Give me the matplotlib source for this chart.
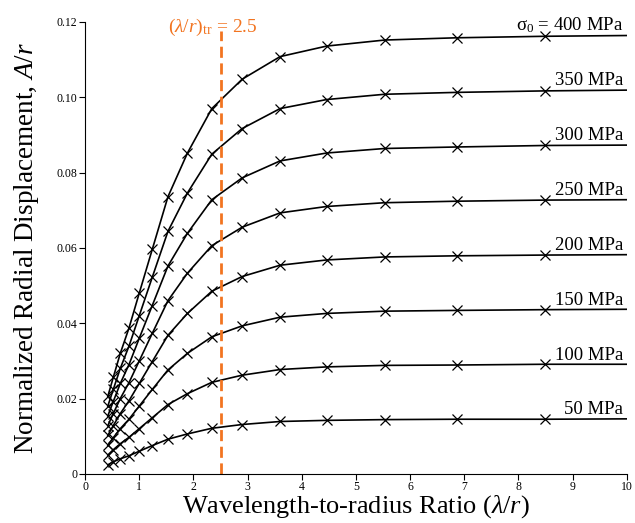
import matplotlib
matplotlib.use('Agg')
import matplotlib.pyplot as plt

plt.rcParams['font.family'] = ['Liberation Serif', 'DejaVu Serif']
plt.rcParams['mathtext.fontset'] = 'custom'
plt.rcParams['mathtext.rm'] = 'Liberation Serif'
plt.rcParams['mathtext.it'] = 'Liberation Serif:italic'

# wavelength-to-radius ratios of the computed points (last point has no marker)
ratio = [0.42, 0.52, 0.65, 0.81, 1.0, 1.24, 1.53, 1.89, 2.34, 2.9, 3.6, 4.46, 5.53, 6.86, 8.5, 10.0]

stress_labels = ['50 MPa', '100 MPa', '150 MPa', '200 MPa', '250 MPa', '300 MPa', '350 MPa',
                 'σ$_0$ = 400 MPa']

disp_50 = [0.0024, 0.0032, 0.0040, 0.0048, 0.0060, 0.0075, 0.0092, 0.0106, 0.0121, 0.0131, 0.0139, 0.0142, 0.0144, 0.0145, 0.0145, 0.0146]
disp_100 = [0.0050, 0.0064, 0.0080, 0.0097, 0.0120, 0.0149, 0.0184, 0.0213, 0.0243, 0.0262, 0.0277, 0.0284, 0.0288, 0.0289, 0.0291, 0.0291]
disp_150 = [0.0076, 0.0096, 0.0120, 0.0145, 0.0180, 0.0224, 0.0276, 0.0320, 0.0364, 0.0393, 0.0416, 0.0426, 0.0432, 0.0434, 0.0436, 0.0437]
disp_200 = [0.0102, 0.0128, 0.0160, 0.0194, 0.0240, 0.0298, 0.0368, 0.0426, 0.0485, 0.0524, 0.0554, 0.0568, 0.0576, 0.0579, 0.0581, 0.0582]
disp_250 = [0.0128, 0.0160, 0.0200, 0.0242, 0.0300, 0.0373, 0.0460, 0.0533, 0.0606, 0.0655, 0.0693, 0.0710, 0.0720, 0.0724, 0.0727, 0.0728]
disp_300 = [0.0154, 0.0192, 0.0240, 0.0290, 0.0360, 0.0447, 0.0552, 0.0639, 0.0728, 0.0786, 0.0831, 0.0852, 0.0864, 0.0868, 0.0872, 0.0873]
disp_350 = [0.0180, 0.0224, 0.0280, 0.0339, 0.0420, 0.0522, 0.0644, 0.0746, 0.0849, 0.0917, 0.0970, 0.0994, 0.1008, 0.1013, 0.1017, 0.1019]
disp_400 = [0.0206, 0.0256, 0.0320, 0.0387, 0.0480, 0.0596, 0.0736, 0.0852, 0.0970, 0.1048, 0.1108, 0.1136, 0.1152, 0.1158, 0.1162, 0.1164]

curves = [disp_50, disp_100, disp_150, disp_200, disp_250, disp_300, disp_350, disp_400]

transition_ratio = 2.5
orange = '#f27420'

fig = plt.figure(figsize=(6.35, 5.23), dpi=100)
ax = fig.add_axes([0.134, 0.094, 0.853, 0.864])

for disp, lab in zip(curves, stress_labels):
    ax.plot(ratio, disp, color='black', lw=1.2, marker='x', markersize=6.5,
            markeredgewidth=0.9, markevery=list(range(len(ratio) - 1)))
    ax.annotate(lab, xy=(9.94, disp[-1]), xytext=(0, 0.5), textcoords='offset points',
                ha='right', va='bottom', fontsize=13.5)

# transition ratio marker
ax.plot([transition_ratio, transition_ratio], [0, 0.1175], color=orange, lw=2,
        dashes=(4, 2))
ax.text(2.36, 0.1158, r'($\lambda$/$r$)$_\mathrm{tr}$ = 2.5', color=orange, ha='center',
        va='bottom', fontsize=14)

ax.set_xlim(0, 10)
ax.set_ylim(0, 0.12)
ax.set_xticks(range(0, 11))
ax.set_yticks([0, 0.02, 0.04, 0.06, 0.08, 0.10, 0.12])
ax.set_yticklabels(['0', '0.02', '0.04', '0.06', '0.08', '0.10', '0.12'])
ax.tick_params(direction='out', length=4, width=0.8, labelsize=8.5, pad=1.5)

for side in ['top', 'right']:
    ax.spines[side].set_visible(False)
for side in ['left', 'bottom']:
    ax.spines[side].set_linewidth(0.8)

ax.set_xlabel(r'Wavelength-to-radius Ratio ($\lambda$/$r$)', fontsize=19, labelpad=-0.5)
ax.set_ylabel(r'Normalized Radial Displacement, $A$/$r$', fontsize=19.5, labelpad=11)

fig.savefig('out.png', dpi=100)
